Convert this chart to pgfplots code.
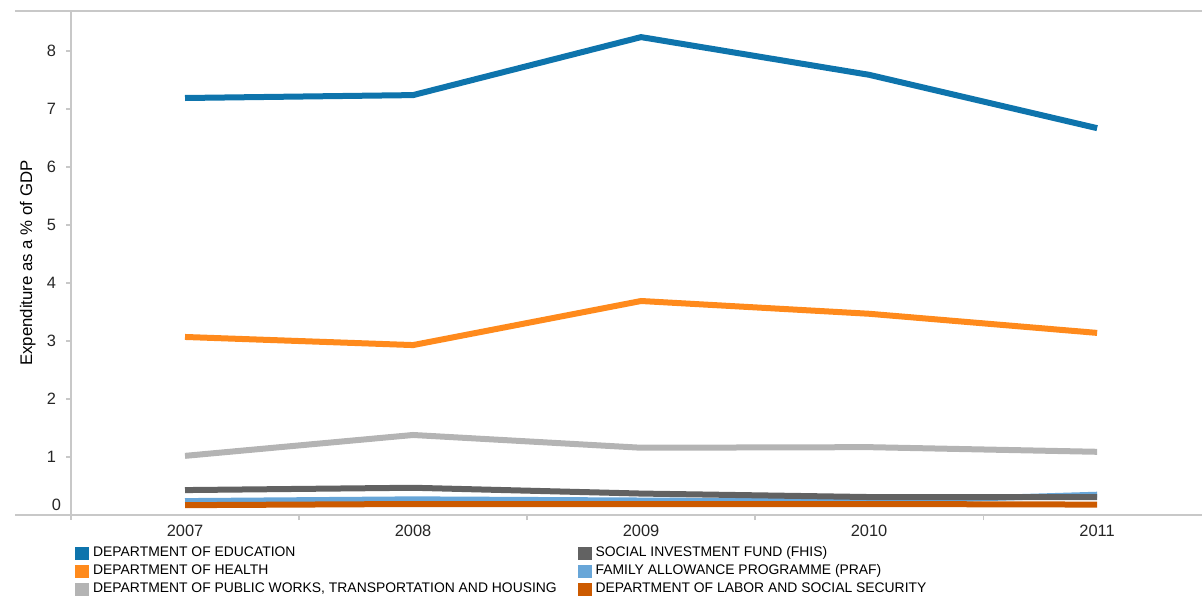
\documentclass[border=0pt]{standalone}
\usepackage{pgfplots}
\pgfplotsset{compat=1.18}
\usepackage{fontspec}
\setmainfont{Liberation Sans}
\definecolor{cEdu}{HTML}{0E74AC}
\definecolor{cHealth}{HTML}{FF8A1C}
\definecolor{cPW}{HTML}{B4B4B4}
\definecolor{cFHIS}{HTML}{626262}
\definecolor{cPRAF}{HTML}{68A6D8}
\definecolor{cLabor}{HTML}{CC5A00}
\definecolor{axgray}{HTML}{C8C8C8}
\begin{document}
\begin{tikzpicture}
\begin{axis}[
  scale only axis,
  width=565.5pt, height=252pt,
  xmin=2006.5, xmax=2011.46,
  ymin=0, ymax=8.69,
  axis x line=bottom, axis y line=left,
  axis line style={draw=axgray, line width=0.6pt, -},
  clip=false,
  xtick={2007,2008,2009,2010,2011},
  xticklabels={2007,2008,2009,2010,2011},
  major x tick style={draw=none},
  minor x tick num=1,
  minor x tick style={draw=axgray, line width=0.6pt},
  minor tick length=2.5pt,
  ytick={1,2,3,4,5,6,7,8},
  extra y ticks={0},
  extra y tick labels={0},
  extra y tick style={yticklabel style={yshift=5pt}, major tick length=0pt},
  major tick length=2.5pt,
  tick align=outside,
  y tick style={draw=axgray, line width=0.6pt},
  tick label style={font=\fontsize{8.2}{9}\selectfont, text=black!85},
  /pgf/number format/assume math mode=true,
  yticklabel style={xshift=-1.5pt},
  xticklabel style={yshift=0.8pt},
  ylabel={Expenditure as a \% of GDP},
  ylabel style={font=\fontsize{8.4}{9}\selectfont, at={(axis description cs:-0.031,0.5)}, anchor=south, inner sep=0pt, rotate=0},
  legend columns=3,
  transpose legend,
  legend cell align=left,
  legend style={at={(rel axis cs:0.0035,-0.058)}, anchor=north west, draw=none, fill=none,
    inner sep=0pt, font=\fontsize{6.95}{8}\selectfont, row sep=0pt,
    nodes={inner sep=0pt, text height=6pt, text depth=3pt},
    /tikz/every even column/.append style={column sep=10.5pt},
    /tikz/every odd column/.append style={column sep=2pt}},
  legend image code/.code={\fill[#1] (0pt,-3pt) rectangle (6.5pt,3pt);},
]
\addplot[cEdu, line width=3pt, forget plot] coordinates {(2007,7.19) (2008,7.24) (2009,8.24) (2010,7.59) (2011,6.67)};
\addplot[cHealth, line width=3pt, forget plot] coordinates {(2007,3.07) (2008,2.93) (2009,3.69) (2010,3.47) (2011,3.14)};
\addplot[cPW, line width=3pt, forget plot] coordinates {(2007,1.02) (2008,1.38) (2009,1.16) (2010,1.17) (2011,1.09)};
\addplot[cPRAF, line width=3pt, forget plot] coordinates {(2007,0.24) (2008,0.27) (2009,0.25) (2010,0.23) (2011,0.35)};
\addplot[cFHIS, line width=3pt, forget plot] coordinates {(2007,0.43) (2008,0.47) (2009,0.37) (2010,0.31) (2011,0.31)};
\addplot[cLabor, line width=3pt, forget plot] coordinates {(2007,0.17) (2008,0.19) (2009,0.19) (2010,0.19) (2011,0.18)};
\addlegendimage{cEdu}\addlegendentry{DEPARTMENT OF EDUCATION}
\addlegendimage{cHealth}\addlegendentry{DEPARTMENT OF HEALTH}
\addlegendimage{cPW}\addlegendentry{DEPARTMENT OF PUBLIC WORKS, TRANSPORTATION AND HOUSING}
\addlegendimage{cFHIS}\addlegendentry{SOCIAL INVESTMENT FUND (FHIS)}
\addlegendimage{cPRAF}\addlegendentry{FAMILY ALLOWANCE PROGRAMME (PRAF)}
\addlegendimage{cLabor}\addlegendentry{DEPARTMENT OF LABOR AND SOCIAL SECURITY}
\draw[axgray, line width=0.6pt] (rel axis cs:-0.0495,1) -- (rel axis cs:1,1);
\draw[axgray, line width=0.6pt] (rel axis cs:-0.0495,0) -- (rel axis cs:0,0);
\draw[axgray, line width=0.6pt] (rel axis cs:0,0) -- ([yshift=-2.5pt]rel axis cs:0,0);
\coordinate (bbsw) at (rel axis cs:0,0);
\coordinate (bbne) at (rel axis cs:1,1);
\end{axis}
\pgfresetboundingbox
\path[use as bounding box] ([xshift=-35.5pt,yshift=-42pt]bbsw) rectangle ([yshift=5.5pt]bbne);
\end{tikzpicture}
\end{document}
